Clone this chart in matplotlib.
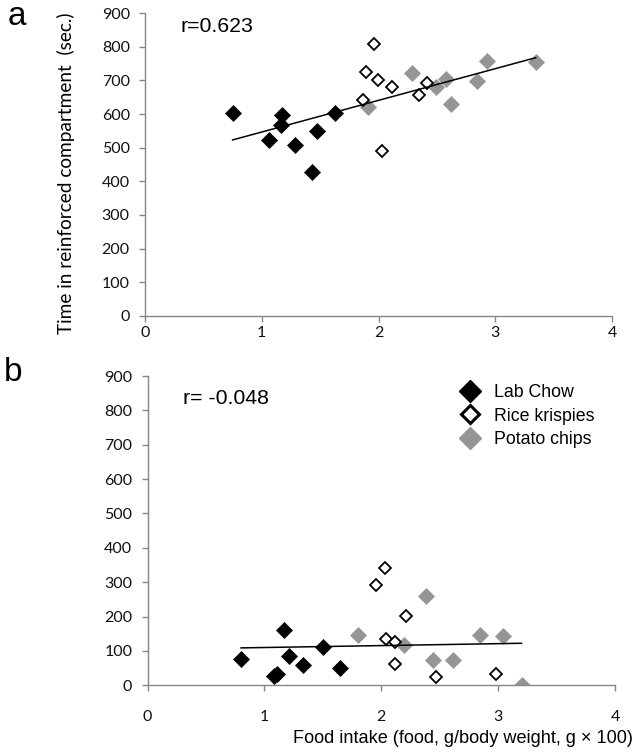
import numpy as np
import matplotlib
matplotlib.use("Agg")
import matplotlib.pyplot as plt
from matplotlib.lines import Line2D

# panel a: preferencia vs ingesta
a_chow_x = [0.75, 1.065, 1.176, 1.162, 1.285, 1.47, 1.43, 1.625]
a_chow_y = [603, 523, 597, 567, 507, 549, 429, 604]
a_rice_x = [1.964, 1.895, 1.993, 2.118, 1.87, 2.03, 2.35, 2.418]
a_rice_y = [807, 726, 701, 679, 641, 490, 655, 691]
a_chip_x = [1.913, 2.284, 2.495, 2.578, 2.624, 2.847, 2.93, 3.346]
a_chip_y = [622, 723, 680, 704, 631, 697, 758, 754]

# panel b
b_chow_x = [0.80, 1.168, 1.208, 1.08, 1.11, 1.333, 1.50, 1.647]
b_chow_y = [77, 161, 86, 28, 33, 59, 112, 50]
b_rice_x = [2.03, 1.955, 2.21, 2.04, 2.12, 2.12, 2.465, 2.98]
b_rice_y = [340, 291, 201, 135, 126, 61, 23, 32]
b_chip_x = [2.382, 1.80, 2.845, 3.045, 2.197, 2.44, 2.616, 3.20]
b_chip_y = [259, 146, 146, 143, 116, 74, 74, 2]

labels = ["Lab Chow", "Rice krispies", "Potato chips"]
r_text = ["r=0.623", "r= -0.048"]
xticks = [0, 1, 2, 3, 4]
yticks = list(range(0, 1000, 100))

gris = "#959595"
eje = "#868686"

fig = plt.figure(figsize=(6.42, 7.52), dpi=100)
ax1 = fig.add_axes([0.2259, 0.5798, 0.7274, 0.4029])
ax2 = fig.add_axes([0.2298, 0.0887, 0.7282, 0.4113])

datos = [
    (ax1, a_chow_x, a_chow_y, a_rice_x, a_rice_y, a_chip_x, a_chip_y, 3),
    (ax2, b_chow_x, b_chow_y, b_rice_x, b_rice_y, b_chip_x, b_chip_y, 14),
]

for i, (ax, cx, cy, rx, ry, px, py, pad) in enumerate(datos):
    ms = 7.8
    ax.plot(px, py, ls="none", marker="D", ms=ms, mfc=gris, mec=gris, mew=0.5, zorder=2)
    ax.plot(rx, ry, ls="none", marker="D", ms=ms - 1.2, mfc="white", mec="black", mew=1.3, zorder=3)
    ax.plot(cx, cy, ls="none", marker="D", ms=ms, mfc="black", mec="black", mew=0.5, zorder=4)

    # linea de tendencia
    xs = np.array(cx + rx + px)
    ys = np.array(cy + ry + py)
    m, b = np.polyfit(xs, ys, 1)
    xl = np.array([xs.min(), xs.max()])
    ax.plot(xl, m * xl + b, color="black", lw=1.1, zorder=5)

    ax.set_xlim(0, 4)
    ax.set_ylim(0, 900)
    ax.set_xticks(xticks)
    ax.set_yticks(yticks)
    for s in ["top", "right"]:
        ax.spines[s].set_visible(False)
    for s in ["left", "bottom"]:
        ax.spines[s].set_color(eje)
        ax.spines[s].set_linewidth(1.0)
    ax.tick_params(axis="y", direction="out", length=4, width=1, color=eje, pad=7,
                   labelsize=11.5, labelcolor="#111111")
    ax.tick_params(axis="x", direction="out", length=4, width=1, color=eje, pad=pad,
                   labelsize=11.5, labelcolor="#111111")
    for t in ax.get_xticklabels() + ax.get_yticklabels():
        t.set_fontfamily("Lato")
    ax.text(0.076, 0.957 if i == 0 else 0.928, r_text[i], transform=ax.transAxes,
            fontsize=15.3, family="Liberation Sans", va="center", ha="left")

fig.text(0.027, 0.978, "a", fontsize=24, family="Liberation Sans", va="center", ha="center")
fig.text(0.021, 0.505, "b", fontsize=24, family="Liberation Sans", va="center", ha="center")

fig.text(0.103, 0.769, "Time in reinforced compartment  (sec.)", rotation=90,
         fontsize=13.7, family="Lato", va="center", ha="center")
fig.text(0.986, 0.018, "Food intake (food, g/body weight, g \u00d7 100)",
         fontsize=13.1, family="Liberation Sans", va="center", ha="right")

handles = [
    Line2D([], [], ls="none", marker="D", ms=11, mfc="black", mec="black"),
    Line2D([], [], ls="none", marker="D", ms=9.5, mfc="white", mec="black", mew=2.2),
    Line2D([], [], ls="none", marker="D", ms=11, mfc=gris, mec=gris),
]
ax2.legend(handles, labels, loc="upper left", bbox_to_anchor=(0.64, 1.015), frameon=False,
           prop={"family": "Liberation Sans", "size": 12.8}, handletextpad=0.75,
           labelspacing=0.38, handlelength=1.2, borderaxespad=0.3)

plt.savefig("out.png", dpi=100)
